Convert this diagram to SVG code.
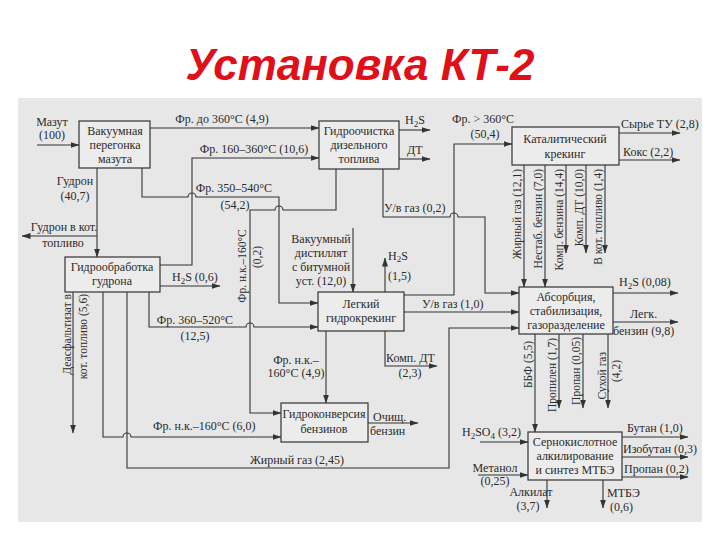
<svg xmlns="http://www.w3.org/2000/svg" width="720" height="540" viewBox="0 0 720 540">
<style>
.t{font-family:"Liberation Serif","Times New Roman",serif;font-size:12px;fill:#2b2b2b}
.r{font-size:11.5px;text-anchor:end}
.m{text-anchor:middle}
.box{fill:#ececec;stroke:#333;stroke-width:1.2}
.ln{fill:none;stroke:#333;stroke-width:1.1}
.ar{marker-end:url(#a)}
.title{font-family:"Liberation Sans",Arial,sans-serif;font-size:44px;font-weight:bold;font-style:italic;fill:#e0101a;text-anchor:middle}
</style>
<defs>
<marker id="a" markerWidth="9" markerHeight="6" refX="8.5" refY="3" orient="auto" markerUnits="userSpaceOnUse"><path d="M0,0 L9,3 L0,6 Z" fill="#333"/></marker>
</defs>
<rect x="0" y="0" width="720" height="540" fill="#fff"/>
<rect x="18" y="98" width="684" height="424" fill="#e7e7e7"/>
<text class="title" x="360" y="80">Установка КТ-2</text>

<g id="connectors">
<path class="ln ar" d="M37,145 H79"/>
<path class="ln ar" d="M150,128 H319"/>
<path class="ln ar" d="M160,265 H192 V158 H319"/>
<path class="ln ar" d="M142,168 V197 H188 a4,4 0 0 1 8,0 H279 V303 H318"/>
<path class="ln ar" d="M336,169 V210 H283 a4,4 0 0 0 -8,0 H250 V413 H281"/>
<path class="ln ar" d="M383,169 V217 H450 a4,4 0 0 1 8,0 H485 V293 H519"/>
<path class="ln ar" d="M404,295 H454 V144 H512"/>
<path class="ln ar" d="M399,130 H430"/>
<path class="ln ar" d="M399,159 H430"/>
<path class="ln ar" d="M619,133 H680"/>
<path class="ln ar" d="M619,160 H680"/>
<path class="ln ar" d="M524,165 V287"/>
<path class="ln ar" d="M545,165 V287"/>
<path class="ln ar" d="M566,165 V253"/>
<path class="ln ar" d="M586,165 V253"/>
<path class="ln ar" d="M605,165 V253"/>
<path class="ln ar" d="M613,293 H678"/>
<path class="ln ar" d="M613,322 H678"/>
<path class="ln ar" d="M535,334 V432"/>
<path class="ln ar" d="M559,334 V408"/>
<path class="ln ar" d="M583,334 V408"/>
<path class="ln ar" d="M608,334 V408"/>
<path class="ln ar" d="M480,442 H528"/>
<path class="ln ar" d="M478,475 H528"/>
<path class="ln ar" d="M622,437 H688"/>
<path class="ln ar" d="M622,457 H688"/>
<path class="ln ar" d="M622,477 H688"/>
<path class="ln ar" d="M547,480 V508"/>
<path class="ln ar" d="M603,480 V508"/>
<path class="ln ar" d="M97,168 V257"/>
<path class="ln ar" d="M97,236 H22"/>
<path class="ln ar" d="M160,286 H220"/>
<path class="ln ar" d="M149,292 V327 H246 a4,4 0 0 1 8,0 H318"/>
<path class="ln ar" d="M73,292 V433"/>
<path class="ln ar" d="M103,292 V437 H123 a4,4 0 0 1 8,0 H281"/>
<path class="ln ar" d="M127,292 V468 H449 V328 H519"/>
<path class="ln ar" d="M353,228 V292"/>
<path class="ln ar" d="M385,292 V258"/>
<path class="ln ar" d="M404,312 H519"/>
<path class="ln ar" d="M326,331 V403"/>
<path class="ln ar" d="M385,331 V366 H437"/>
<path class="ln ar" d="M368,423 H418"/>
</g>

<g id="labels" class="t">
<text class="m" x="52" y="126">Мазут</text>
<text class="m" x="52" y="139">(100)</text>
<text class="m" x="222" y="123">Фр. до 360°С (4,9)</text>
<text class="m" x="254" y="153">Фр. 160–360°С (10,6)</text>
<text class="m" x="234" y="192">Фр. 350–540°С</text>
<text class="m" x="235" y="209">(54,2)</text>
<text x="405" y="124">H<tspan dy="3" font-size="9">2</tspan><tspan dy="-3">S</tspan></text>
<text x="407" y="154">ДТ</text>
<text x="384" y="212">У/в газ (0,2)</text>
<text class="m" x="483" y="123">Фр. &gt; 360°С</text>
<text class="m" x="485" y="138">(50,4)</text>
<text x="621" y="128">Сырье ТУ (2,8)</text>
<text x="623" y="156">Кокс (2,2)</text>
<text class="m" x="75" y="185">Гудрон</text>
<text class="m" x="75" y="200">(40,7)</text>
<text class="m" x="64" y="231">Гудрон в кот.</text>
<text class="m" x="63" y="247">топливо</text>
<text x="172" y="281">H<tspan dy="3" font-size="9">2</tspan><tspan dy="-3">S (0,6)</tspan></text>
<text class="m" x="195" y="324">Фр. 360–520°С</text>
<text class="m" x="195" y="340">(12,5)</text>
<text class="m" x="321" y="243">Вакуумный</text>
<text class="m" x="321" y="257">дистиллят</text>
<text class="m" x="321" y="271">с битумной</text>
<text class="m" x="321" y="285">уст. (12,0)</text>
<text x="388" y="260">H<tspan dy="2" font-size="9">2</tspan><tspan dy="-2">S</tspan></text>
<text x="388" y="280">(1,5)</text>
<text x="422" y="308">У/в газ (1,0)</text>
<text class="m" x="296" y="364">Фр. н.к.–</text>
<text class="m" x="296" y="377">160°С (4,9)</text>
<text x="386" y="362">Комп. ДТ</text>
<text class="m" x="410" y="377">(2,3)</text>
<text x="373" y="421">Очищ.</text>
<text x="370" y="435">бензин</text>
<text x="153" y="430">Фр. н.к.–160°С (6,0)</text>
<text x="250" y="464">Жирный газ (2,45)</text>
<text x="619" y="286">H<tspan dy="3" font-size="9">2</tspan><tspan dy="-3">S (0,08)</tspan></text>
<text x="630" y="318">Легк.</text>
<text x="613" y="335">бензин (9,8)</text>
<text x="462" y="436">H<tspan dy="3" font-size="9">2</tspan><tspan dy="-3">SO</tspan><tspan dy="3" font-size="9">4</tspan><tspan dy="-3"> (3,2)</tspan></text>
<text class="m" x="495" y="472">Метанол</text>
<text class="m" x="495" y="485">(0,25)</text>
<text x="627" y="432">Бутан (1,0)</text>
<text x="623" y="453">Изобутан (0,3)</text>
<text x="624" y="473">Пропан (0,2)</text>
<text class="m" x="531" y="496">Алкилат</text>
<text class="m" x="528" y="510">(3,7)</text>
<text x="607" y="497">МТБЭ</text>
<text x="610" y="511">(0,6)</text>
<text class="r" transform="translate(521,169) rotate(-90)">Жирный газ (12,1)</text>
<text class="r" transform="translate(542,169) rotate(-90)">Нестаб. бензин (7,0)</text>
<text class="r" transform="translate(563,169) rotate(-90)">Комп. бензина (14,4)</text>
<text class="r" transform="translate(583,169) rotate(-90)">Комп. ДТ (10,0)</text>
<text class="r" transform="translate(602,169) rotate(-90)">В кот. топливо (1,4)</text>
<text class="r" transform="translate(532,341) rotate(-90)">ББФ (5,5)</text>
<text class="r" transform="translate(556,338) rotate(-90)">Пропилен (1,7)</text>
<text class="r" transform="translate(580,337) rotate(-90)">Пропан (0,05)</text>
<text class="r" transform="translate(606,352) rotate(-90)">Сухой газ</text>
<text class="r" transform="translate(620,360) rotate(-90)">(4,2)</text>
<text class="m" font-size="11.5" transform="translate(246,266) rotate(-90)">Фр. н.к.–160°С</text>
<text class="m" font-size="11.5" transform="translate(261,257) rotate(-90)">(0,2)</text>
<text class="r" transform="translate(71,294) rotate(-90)">Деасфальтизат в</text>
<text class="r" transform="translate(87,294) rotate(-90)">кот. топливо (5,6)</text>
</g>

<g id="vac" class="t"><rect class="box" x="79" y="121" width="71" height="47"/>
<text class="m" x="115" y="135">Вакуумная</text><text class="m" x="115" y="149">перегонка</text><text class="m" x="115" y="163">мазута</text></g>
<g id="hydrotreat" class="t"><rect class="box" x="319" y="121" width="80" height="48"/>
<text class="m" x="359" y="135">Гидроочистка</text><text class="m" x="359" y="149">дизельного</text><text class="m" x="359" y="163">топлива</text></g>
<g id="catcrack" class="t"><rect class="box" x="512" y="127" width="107" height="38"/>
<text class="m" x="565" y="143">Каталитический</text><text class="m" x="565" y="158">крекинг</text></g>
<g id="tarhydro" class="t"><rect class="box" x="65" y="257" width="95" height="35"/>
<text class="m" x="112" y="271">Гидрообработка</text><text class="m" x="112" y="285">гудрона</text></g>
<g id="hydrocrack" class="t"><rect class="box" x="318" y="292" width="86" height="39"/>
<text class="m" x="361" y="308">Легкий</text><text class="m" x="361" y="322">гидрокрекинг</text></g>
<g id="absorb" class="t"><rect class="box" x="519" y="287" width="94" height="47"/>
<text class="m" x="566" y="301">Абсорбция,</text><text class="m" x="566" y="315">стабилизация,</text><text class="m" x="566" y="329">газоразделение</text></g>
<g id="hydroconv" class="t"><rect class="box" x="281" y="403" width="87" height="39"/>
<text class="m" x="324" y="418">Гидроконверсия</text><text class="m" x="324" y="433">бензинов</text></g>
<g id="alkyl" class="t"><rect class="box" x="528" y="432" width="94" height="48"/>
<text class="m" x="575" y="446">Сернокислотное</text><text class="m" x="575" y="460">алкилирование</text><text class="m" x="575" y="474">и синтез МТБЭ</text></g>
</svg>
